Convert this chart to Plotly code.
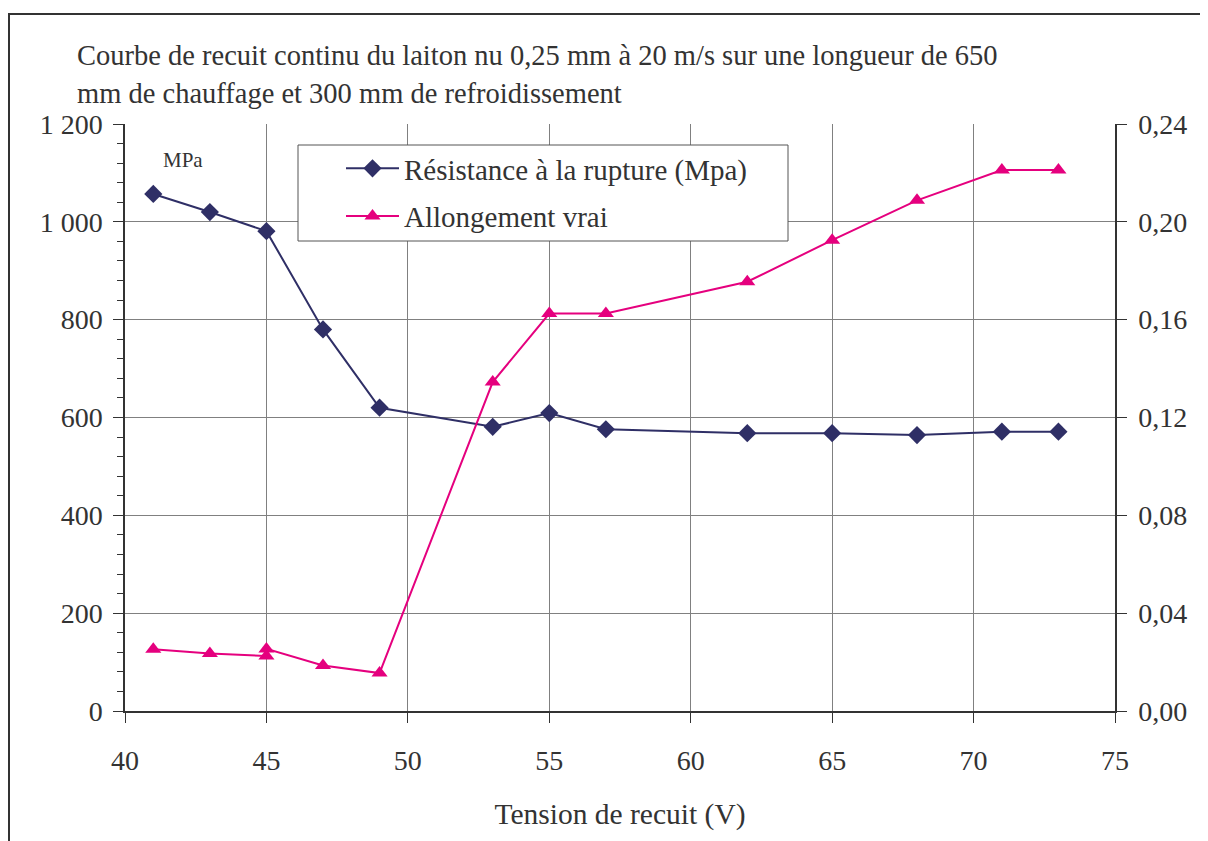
import plotly.graph_objects as go

# Data
x_res = [41, 43, 45, 47, 49, 53, 55, 57, 62, 65, 68, 71, 73]
resistance = [1057, 1020, 981, 780, 620, 581, 609, 576, 568, 568, 564, 571, 571]

x_all = [41, 43, 45, 45, 47, 49, 53, 55, 57, 62, 65, 68, 71, 73]
allongement = [0.0252, 0.0235, 0.0225, 0.0254, 0.0186, 0.0155, 0.1345, 0.1625, 0.1625, 0.1755, 0.1925, 0.2088, 0.2212, 0.2212]

x_ticks = [40, 45, 50, 55, 60, 65, 70, 75]
title_lines = ["Courbe de recuit continu du laiton nu 0,25 mm à 20 m/s sur une longueur de 650",
               "mm de chauffage et 300 mm de refroidissement"]
x_title = "Tension de recuit (V)"
name_res = "Résistance à la rupture (Mpa)"
name_all = "Allongement vrai"
unit_label = "MPa"

NAVY = "#2F2F66"
PINK = "#E5007E"
TXT = "#333333"
GRID = "#808080"
FONT = "Liberation Serif"

OFF = 8  # page body margin
W, H = 1208 - OFF, 841 - OFF
L, R, T, B = 125, 1115, 124, 711  # reference pixel coordinates
ml, mr, mt, mb = L - OFF, 1208 - R, T - OFF, 841 - B
pw, ph = R - L, B - T


def px(x):
    return (x - L) / pw


def py(y):
    return (B - y) / ph


fig = go.Figure()
fig.add_trace(go.Scatter(x=x_res, y=resistance, name=name_res, mode="lines+markers",
                         legendgroup="a",
                         line=dict(color=NAVY, width=2),
                         marker=dict(symbol="diamond", size=14, color=NAVY)))
fig.add_trace(go.Scatter(x=x_all, y=allongement, name=name_all, mode="lines+markers",
                         yaxis="y2", legendgroup="b",
                         line=dict(color=PINK, width=2),
                         marker=dict(symbol="triangle-up", size=14, color=PINK)))

fig.update_layout(
    width=W, height=H,
    margin=dict(l=ml, r=mr, t=mt, b=mb, pad=0),
    paper_bgcolor="white", plot_bgcolor="white",
    separators=", ",
    font=dict(family=FONT, size=28, color=TXT),
    showlegend=True,
    legend=dict(x=px(341), y=py(143), xanchor="left", yanchor="top",
                bgcolor="rgba(0,0,0,0)", borderwidth=0,
                font=dict(family=FONT, size=29, color=TXT),
                tracegroupgap=7, itemwidth=53),
    xaxis=dict(range=[40, 75], tickvals=x_ticks, showgrid=True, gridcolor=GRID, gridwidth=1,
               showline=True, linecolor=TXT, linewidth=1.5, ticks="outside", ticklen=10,
               tickcolor=TXT, zeroline=False, ticklabelstandoff=14,
               title=dict(text=x_title, standoff=28, font=dict(size=29.5))),
    yaxis=dict(range=[0, 1200], dtick=200, tickformat=",d", showgrid=True, gridcolor=GRID,
               gridwidth=1, showline=True, linecolor=TXT, linewidth=1.5, ticks="outside",
               ticklen=10, tickcolor=TXT, zeroline=False, ticklabelstandoff=5,
               minor=dict(dtick=40, ticks="outside", ticklen=6, tickcolor=TXT, showgrid=False)),
    yaxis2=dict(range=[0, 0.24], dtick=0.04, tickformat=".2f", overlaying="y", side="right",
                showgrid=False, showline=True, linecolor=TXT, linewidth=1.5, ticks="outside",
                ticklen=10, tickcolor=TXT, zeroline=False, ticklabelstandoff=6),
)

# legend box
fig.add_shape(type="rect", xref="paper", yref="paper",
              x0=px(298), x1=px(788), y0=py(241), y1=py(145),
              line=dict(color="#555555", width=1), fillcolor="white", layer="above")
# outer frame
fig.add_shape(type="rect", xref="paper", yref="paper",
              x0=px(9), x1=px(1205), y0=py(880), y1=py(14),
              line=dict(color="#333333", width=2), fillcolor="rgba(0,0,0,0)", layer="above")

fig.add_annotation(text=title_lines[0], xref="paper", yref="paper", x=px(75), y=py(55),
                   xanchor="left", yanchor="middle", showarrow=False,
                   font=dict(family=FONT, size=28.5, color=TXT))
fig.add_annotation(text=title_lines[1], xref="paper", yref="paper", x=px(75), y=py(94),
                   xanchor="left", yanchor="middle", showarrow=False,
                   font=dict(family=FONT, size=28.5, color=TXT))
fig.add_annotation(text=unit_label, xref="paper", yref="paper", x=px(183), y=py(160),
                   xanchor="center", yanchor="middle", showarrow=False,
                   font=dict(family=FONT, size=21, color=TXT))

fig.write_html("out.html")
